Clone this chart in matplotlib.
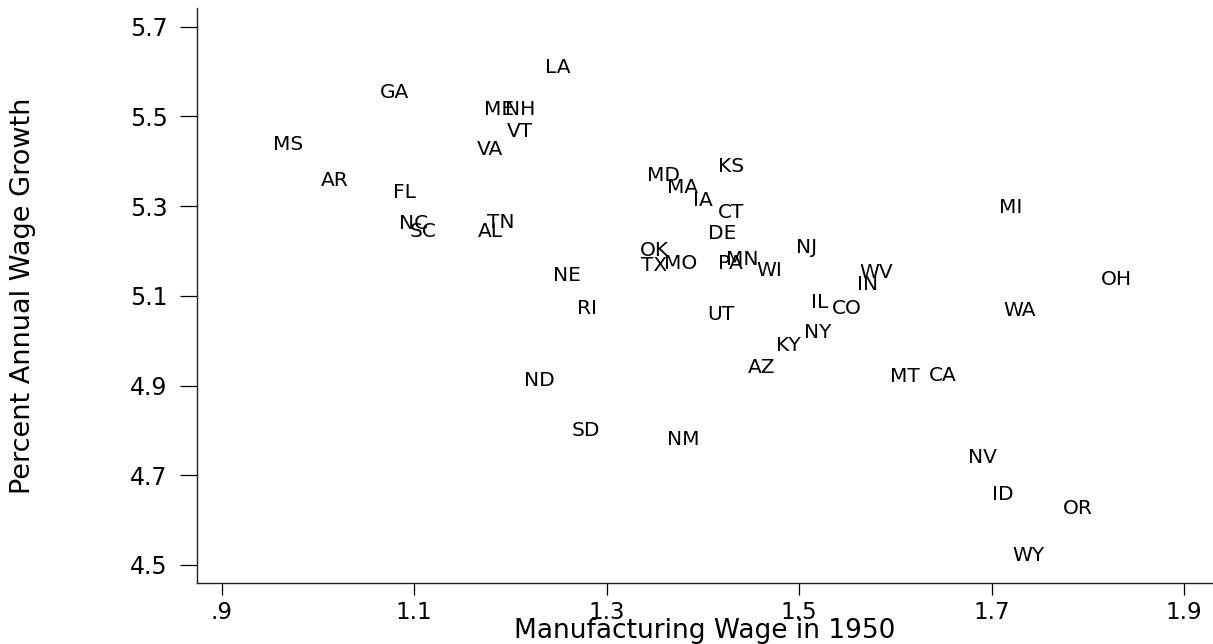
import matplotlib
matplotlib.use("Agg")
import matplotlib.pyplot as plt

states = ["LA", "GA", "MS", "AR", "FL", "NC", "SC", "AL", "TN", "VA", "VT", "ME", "NH",
          "KS", "MD", "MA", "IA", "CT", "DE", "OK", "TX", "MO", "PA", "MN", "WI", "NJ", "NE",
          "RI", "UT", "ND", "SD", "NM", "AZ", "KY",
          "MI", "OH", "WA", "WV", "IN", "IL", "CO", "NY", "MT", "CA",
          "NV", "ID", "OR", "WY"]
wage1950 = [1.236, 1.064, 0.953, 1.003, 1.078, 1.084, 1.095, 1.166, 1.176, 1.165, 1.196, 1.173, 1.194,
            1.416, 1.342, 1.363, 1.390, 1.416, 1.405, 1.334, 1.336, 1.360, 1.416, 1.424, 1.456, 1.497, 1.244,
            1.269, 1.405, 1.214, 1.264, 1.363, 1.447, 1.476,
            1.708, 1.814, 1.712, 1.562, 1.560, 1.512, 1.534, 1.505, 1.594, 1.635,
            1.675, 1.700, 1.774, 1.722]
growth = [5.608, 5.553, 5.438, 5.356, 5.330, 5.262, 5.244, 5.244, 5.264, 5.427, 5.467, 5.516, 5.516,
          5.389, 5.369, 5.342, 5.312, 5.285, 5.239, 5.202, 5.167, 5.171, 5.171, 5.182, 5.156, 5.207, 5.145,
          5.072, 5.059, 4.911, 4.799, 4.780, 4.940, 4.990,
          5.296, 5.137, 5.067, 5.151, 5.126, 5.084, 5.072, 5.018, 4.919, 4.922,
          4.740, 4.658, 4.626, 4.522]

xticks = [0.9, 1.1, 1.3, 1.5, 1.7, 1.9]
xticklabels = [".9", "1.1", "1.3", "1.5", "1.7", "1.9"]
yticks = [4.5, 4.7, 4.9, 5.1, 5.3, 5.5, 5.7]
yticklabels = ["4.5", "4.7", "4.9", "5.1", "5.3", "5.5", "5.7"]

plt.rcParams['font.family'] = ['DejaVu Sans']

fig = plt.figure(figsize=(12.13, 6.44), dpi=100)
ax = fig.add_axes([196.7 / 1213, 60.7 / 644, 1016.3 / 1213, 575.0 / 644])
ax.set_xlim(0.874, 1.930)
ax.set_ylim(4.459, 5.741)

for s, x, y in zip(states, wage1950, growth):
    ax.text(x, y, s, ha='left', va='center', fontsize=14.5, color='black')

ax.spines['top'].set_visible(False)
ax.spines['right'].set_visible(False)
for sp in ['left', 'bottom']:
    ax.spines[sp].set_linewidth(1.0)
    ax.spines[sp].set_color('#222222')

ax.set_xticks(xticks)
ax.set_xticklabels(xticklabels, fontsize=16.5)
ax.set_yticks(yticks)
ax.set_yticklabels(yticklabels, fontsize=17)
ax.tick_params(axis='x', direction='out', length=8.4, width=0.9, pad=4, colors='black')
ax.tick_params(axis='y', direction='out', length=12, width=0.9, pad=9, colors='black')

ax.set_xlabel("Manufacturing Wage in 1950", fontsize=19)
ax.set_ylabel("Percent Annual Wage Growth", fontsize=19.5)
ax.xaxis.set_label_coords(0.5, -0.061)
ax.yaxis.set_label_coords(-0.158, 0.5)

fig.savefig("out.png", dpi=100)
